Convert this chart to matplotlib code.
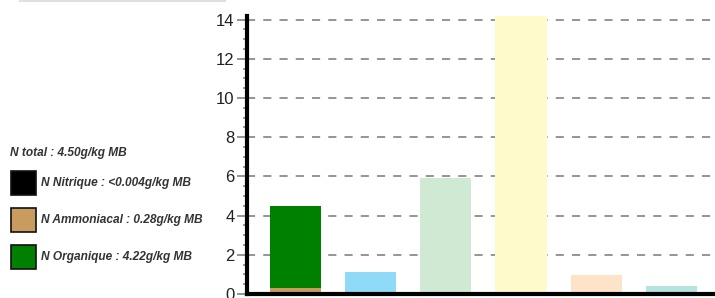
import matplotlib
matplotlib.use("Agg")
import matplotlib.pyplot as plt
from matplotlib.patches import Rectangle
from matplotlib.lines import Line2D
from matplotlib.ticker import MultipleLocator

# Data
positions = [0, 1, 2, 3, 4, 5]
bar_values = [None, 1.12, 5.92, 14.2, 0.97, 0.41]
bar_colors = [None, "#8fdaf7", "#cfe9d3", "#fffacb", "#fde4c9", "#b5e4de"]
stack_labels = ["N Nitrique : <0.004g/kg MB", "N Ammoniacal : 0.28g/kg MB", "N Organique : 4.22g/kg MB"]
stack_values = [0.004, 0.28, 4.22]
stack_colors = ["#000000", "#c89b5f", "#008000"]
total_label = "N total : 4.50g/kg MB"
yticks = [0, 2, 4, 6, 8, 10, 12, 14]

W, H = 715, 298
fig = plt.figure(figsize=(W / 100, H / 100), dpi=100)
ax_left, ax_right = 247, 715
ax_bottom, ax_top = 294, 16
ax = fig.add_axes([ax_left / W, (H - ax_bottom) / H, (ax_right - ax_left) / W, (ax_bottom - ax_top) / H])

bar_w = 0.68
# stacked bar
bottom = 0
for v, c in zip(stack_values, stack_colors):
    ax.bar(positions[0], v, bottom=bottom, width=bar_w, color=c, zorder=2, linewidth=0)
    bottom += v
for p, v, c in zip(positions[1:], bar_values[1:], bar_colors[1:]):
    ax.bar(p, v, width=bar_w, color=c, zorder=2, linewidth=0)

ax.set_xlim(-0.645, 5.58)
ax.set_ylim(0, 14.18)
ax.set_yticks(yticks)
ax.set_yticklabels([str(t) for t in yticks])
ax.yaxis.set_minor_locator(MultipleLocator(0.5))
ax.set_xticks([])
ax.yaxis.grid(True, which="major", color="#8c8c8c", linestyle=(0, (4.5, 4.5)), linewidth=1.3, zorder=0)
ax.set_axisbelow(True)
for s in ["top", "right"]:
    ax.spines[s].set_visible(False)
for s in ["left", "bottom"]:
    ax.spines[s].set_linewidth(3)
    ax.spines[s].set_color("black")
    ax.spines[s].set_zorder(5)
ax.tick_params(axis="y", which="major", length=7, width=1.3, color="#8c8c8c", labelsize=12, labelcolor="#222222", pad=2)
ax.tick_params(axis="y", which="minor", length=3, width=1.2, color="#8c8c8c")
for lab in ax.get_yticklabels():
    lab.set_fontfamily("Liberation Sans")

# top gray line remnant
fig.add_artist(Line2D([20 / W, 225 / W], [1 - 0.5 / H, 1 - 0.5 / H], color="#e0e0e0", linewidth=1.5))

# legend on left
tfont = dict(family="Liberation Sans", style="italic", weight="bold", fontsize=8.6, color="#333333")
fig.text(10 / W, 1 - 153 / H, total_label, va="center", ha="left", **tfont)
sq_tops = [171, 208, 245]
for lab, c, top in zip(stack_labels, stack_colors, sq_tops):
    fig.add_artist(Rectangle((11 / W, 1 - (top + 24) / H), 25 / W, 24 / H, facecolor=c,
                             edgecolor="#111111", linewidth=1.2, transform=fig.transFigure))
    fig.text(41 / W, 1 - (top + 12) / H, lab, va="center", ha="left", **tfont)

fig.savefig("out.png", dpi=100)
